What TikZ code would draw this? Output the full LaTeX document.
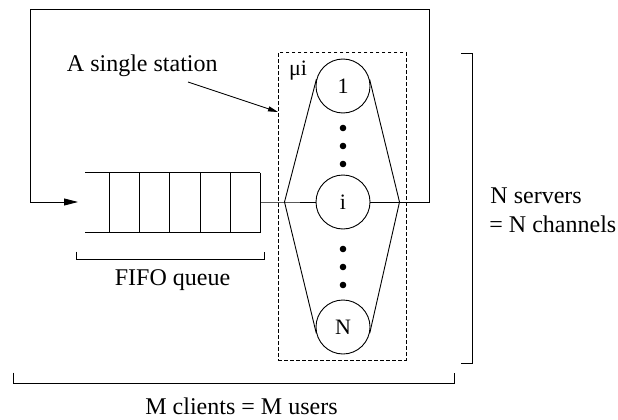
\documentclass[tikz,border=0pt]{standalone}
\usepackage{fontspec}
\setmainfont{Liberation Serif}
\usetikzlibrary{calc,arrows.meta}
\begin{document}
\begin{tikzpicture}[x=1pt,y=-1pt,line width=0.9pt,
  server/.style={circle,draw,minimum size=54pt,inner sep=0pt,font=\fontsize{22}{26}\selectfont},
  lbl/.style={inner sep=0pt,font=\fontsize{24}{28}\selectfont},
  smalllbl/.style={inner sep=0pt,font=\fontsize{22}{26}\selectfont},
  stationbox/.style={draw,dash pattern=on 3.5pt off 2.5pt,line width=0.8pt,inner sep=0pt},
  bracketline/.style={line width=0.9pt},
  dotmark/.style={circle,fill,inner sep=0pt,minimum size=6.6pt},
  bigtip/.style={-{Triangle[length=14pt,width=7pt]}},
  smalltip/.style={-{Triangle[length=10pt,width=5pt]}}]
\useasboundingbox (0,0) rectangle (618,420);

% station box
\node[stationbox,minimum width=127.5pt,minimum height=308pt,anchor=north west] (station) at (278,52) {};

% servers
\node[server] (s1) at (343,86) {1};
\node[server] (si) at (343,202) {i};
\node[server] (sN) at (343,327) {N};
\foreach \y/\n in {128/a,146/b,164/c,249/d,267/e,285/f}
  \node[dotmark] (dot\n) at (343,\y) {};

\coordinate (ls) at (284.5,202);
\coordinate (rs) at (399.5,202);
\coordinate (qout) at (260,202);
\coordinate (qin) at (78,202);
\coordinate (c1) at (429,9.5);
\coordinate (c2) at (30,9.5);

% fan-out / fan-in
\draw (ls) -- (tangent cs:node=s1,point={(ls)},solution=2);
\draw (ls) -- (tangent cs:node=sN,point={(ls)},solution=1);
\draw (rs) -- (tangent cs:node=s1,point={(rs)},solution=1);
\draw (rs) -- (tangent cs:node=sN,point={(rs)},solution=2);
\draw (qout) -- (ls) -- (si.west);
\draw (si.east) -- (rs);

% feedback loop
\draw[bigtip] (rs) -| (c1) -- (c2) |- (qin);

% queue
\draw (85,172.5) -- (260,172.5);
\draw (85,232.5) -- (260,232.5);
\foreach \x in {109,139,169.5,200,230,260}
  \draw (\x,172.5) -- (\x,232.5);

% labels
\node[smalllbl,anchor=base] (mu) at (298,75) {μi};
\node[lbl,anchor=base west] (single) at (66.5,71) {A single station};
\coordinate (astart) at (188,82);
\coordinate (aend) at (278,112);
\draw[smalltip,line width=0.8pt] (astart) -- (aend);

% FIFO bracket
\draw[bracketline] (76,251.5) -- (76,259.5) -- (264,259.5) -- (264,251.5);
\node[lbl,anchor=base] (fifo) at (172.5,285.5) {FIFO queue};

% N servers bracket
\draw[bracketline] (461,53) -- (472,53) -- (472,363) -- (461,363);
\node[lbl,anchor=base west] (nserv) at (490,203.5) {N servers};
\node[lbl,anchor=base west] (nchan) at (489,232.5) {= N channels};

% M clients bracket
\draw[bracketline] (13,372.5) -- (13,383.5) -- (454,383.5) -- (454,372.5);
\node[lbl,anchor=base] (mcl) at (241.5,414) {M clients = M users};
\end{tikzpicture}
\end{document}
